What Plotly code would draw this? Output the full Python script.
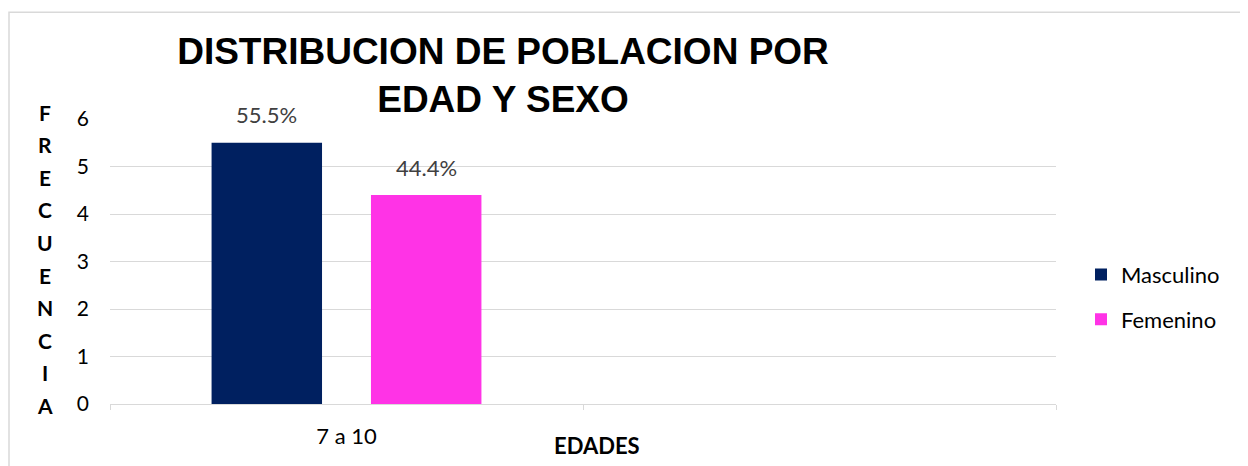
import plotly.graph_objects as go

categories = ["7 a 10", " "]
series_names = ["Masculino", "Femenino"]
masculino = [5.5, None]
femenino = [4.4, None]
labels_masc = ["55.5%", ""]
labels_fem = ["44.4%", ""]
colors = ["#002060", "#FF33E6"]
y_ticks = [0, 1, 2, 3, 4, 5, 6]
y_title = "FRECUENCIA"
x_title = "EDADES"
title = "DISTRIBUCION DE POBLACION POR<br>EDAD Y SEXO"

FONT = "Lato"
OFF = 8  # page body margin
W, H = 1240, 458
L, R, T, B = 102, 192, 111, 61.5
pw, ph = W - L - R, H - T - B


def px(xp):
    return (xp - OFF - L) / pw


def py(yp):
    return (H - B - (yp - OFF)) / ph


fig = go.Figure()
for name, vals, col, grp in [(series_names[0], masculino, colors[0], "g1"),
                             (series_names[1], femenino, colors[1], "g2")]:
    fig.add_trace(go.Bar(x=categories, y=vals, name=name, marker_color=col,
                         marker_line_width=0, legendgroup=grp))

# data labels
offs = [-79.75, 79.75]
for lab, vals, dx in [(labels_masc, masculino, offs[0]), (labels_fem, femenino, offs[1])]:
    for c, v, t in zip(categories, vals, lab):
        if v is None:
            continue
        fig.add_annotation(x=c, y=v, text=t, showarrow=False, xshift=dx, yshift=28,
                           font=dict(family=FONT, size=22, color="#404040"))

# vertical y-axis title, letter by letter
n = len(y_title)
top_px, bot_px = 112, 406
for i, ch in enumerate(y_title):
    yy = top_px + (bot_px - top_px) * i / (n - 1)
    fig.add_annotation(xref="paper", yref="paper", x=px(45), y=py(yy),
                       text=ch, showarrow=False, xanchor="center", yanchor="middle",
                       font=dict(family=FONT, size=21, color="#000000", weight="bold"))

# x-axis title
fig.add_annotation(xref="paper", yref="paper", x=px(597), y=py(446),
                   text=x_title, showarrow=False, xanchor="center", yanchor="middle",
                   font=dict(family=FONT, size=22, color="#000000", weight="bold"))

# outer frame
fig.add_shape(type="rect", xref="paper", yref="paper",
              x0=px(9), x1=px(1245), y0=py(490), y1=py(12),
              line=dict(color="#D9D9D9", width=1.5), fillcolor="rgba(0,0,0,0)", layer="below")

fig.update_layout(
    width=W, height=H,
    margin=dict(l=L, r=R, t=T, b=B, pad=0),
    paper_bgcolor="white", plot_bgcolor="white",
    barmode="group", bargap=0.326, bargroupgap=0.307,
    title=dict(text=title, x=(503 - OFF) / W, xanchor="center", y=1 - (64 - OFF) / H, yanchor="top",
               font=dict(family="Liberation Sans", size=37, color="#000000", weight="bold")),
    legend=dict(x=px(1081), y=py(254), xanchor="left", yanchor="top",
                font=dict(family=FONT, size=22, color="#000000"),
                tracegroupgap=13, bgcolor="rgba(0,0,0,0)"),
    xaxis=dict(type="category", categoryorder="array", categoryarray=categories,
               range=[-0.5, 1.5], showgrid=False, showline=True, linecolor="#D9D9D9",
               linewidth=1, ticks="outside", tickson="boundaries", ticklen=5,
               tickcolor="#D9D9D9", ticklabelstandoff=13,
               tickfont=dict(family=FONT, size=22, color="#000000")),
    yaxis=dict(range=[0, 6], tickvals=y_ticks, showgrid=True, gridcolor="#D9D9D9",
               gridwidth=1, zeroline=False, showline=False, ticks="",
               ticklabelstandoff=20,
               tickfont=dict(family=FONT, size=21, color="#000000")),
)

fig.write_html("out.html")
